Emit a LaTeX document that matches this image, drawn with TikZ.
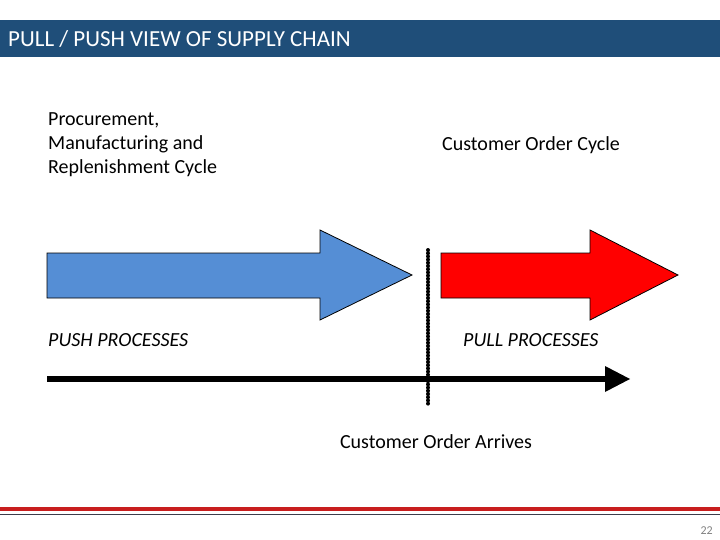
\documentclass[tikz,border=0pt]{standalone}
\usepackage{fontspec}
\setmainfont{Carlito}
\begin{document}
\begin{tikzpicture}[x=1pt,y=-1pt,
  lbl/.style={anchor=west,inner sep=0pt,font=\fontsize{20}{24}\selectfont,align=left},
  bigarrow/.style={draw=black,line width=0.8pt,line join=miter}]
\useasboundingbox (0,0) rectangle (720,540);
\fill[fill={rgb,255:red,31;green,78;blue,121}] (0,20) rectangle (720,57);
\node[anchor=west,text=white,inner sep=0pt,font=\fontsize{23}{26}\selectfont] (title) at (8,39) {PULL / PUSH VIEW OF SUPPLY CHAIN};
\node[lbl] (proc) at (48,145) {Procurement,\\Manufacturing and\\Replenishment Cycle};
\node[lbl] (coc) at (442,145) {Customer Order Cycle};
\node[lbl,font=\fontsize{20}{24}\selectfont\itshape] (push) at (48,340) {PUSH PROCESSES};
\node[lbl,font=\fontsize{20}{24}\selectfont\itshape] (pull) at (463,340) {PULL PROCESSES};
\node[inner sep=0pt,font=\fontsize{20}{24}\selectfont] (arr) at (436,442) {Customer Order Arrives};
\draw[bigarrow,fill={rgb,255:red,85;green,142;blue,213}] (47,253) -- (320,253) -- (320,230) -- (412,275) -- (320,320) -- (320,298) -- (47,298) -- cycle;
\draw[bigarrow,fill=red] (441,253) -- (590,253) -- (590,230) -- (678,275) -- (590,320) -- (590,298) -- (441,298) -- cycle;
\coordinate (ls) at (47,379);
\coordinate (le) at (607,379);
\draw[line width=6pt] (ls) -- (le);
\fill (605,366) -- (630,379) -- (605,392) -- cycle;
\coordinate (dt) at (428,250);
\coordinate (db) at (428,404);
\draw[line width=4pt,line cap=round,dash pattern=on 0pt off 3.2pt] (dt) -- (db);
\fill[fill={rgb,255:red,200;green,30;blue,30}] (0,507) rectangle (720,511);
\fill[fill={rgb,255:red,60;green,60;blue,75}] (0,513.5) rectangle (720,515);
\node[anchor=east,inner sep=0pt,text=gray,font=\fontsize{12}{14}\selectfont] (pg) at (713,531) {22};
\end{tikzpicture}
\end{document}
